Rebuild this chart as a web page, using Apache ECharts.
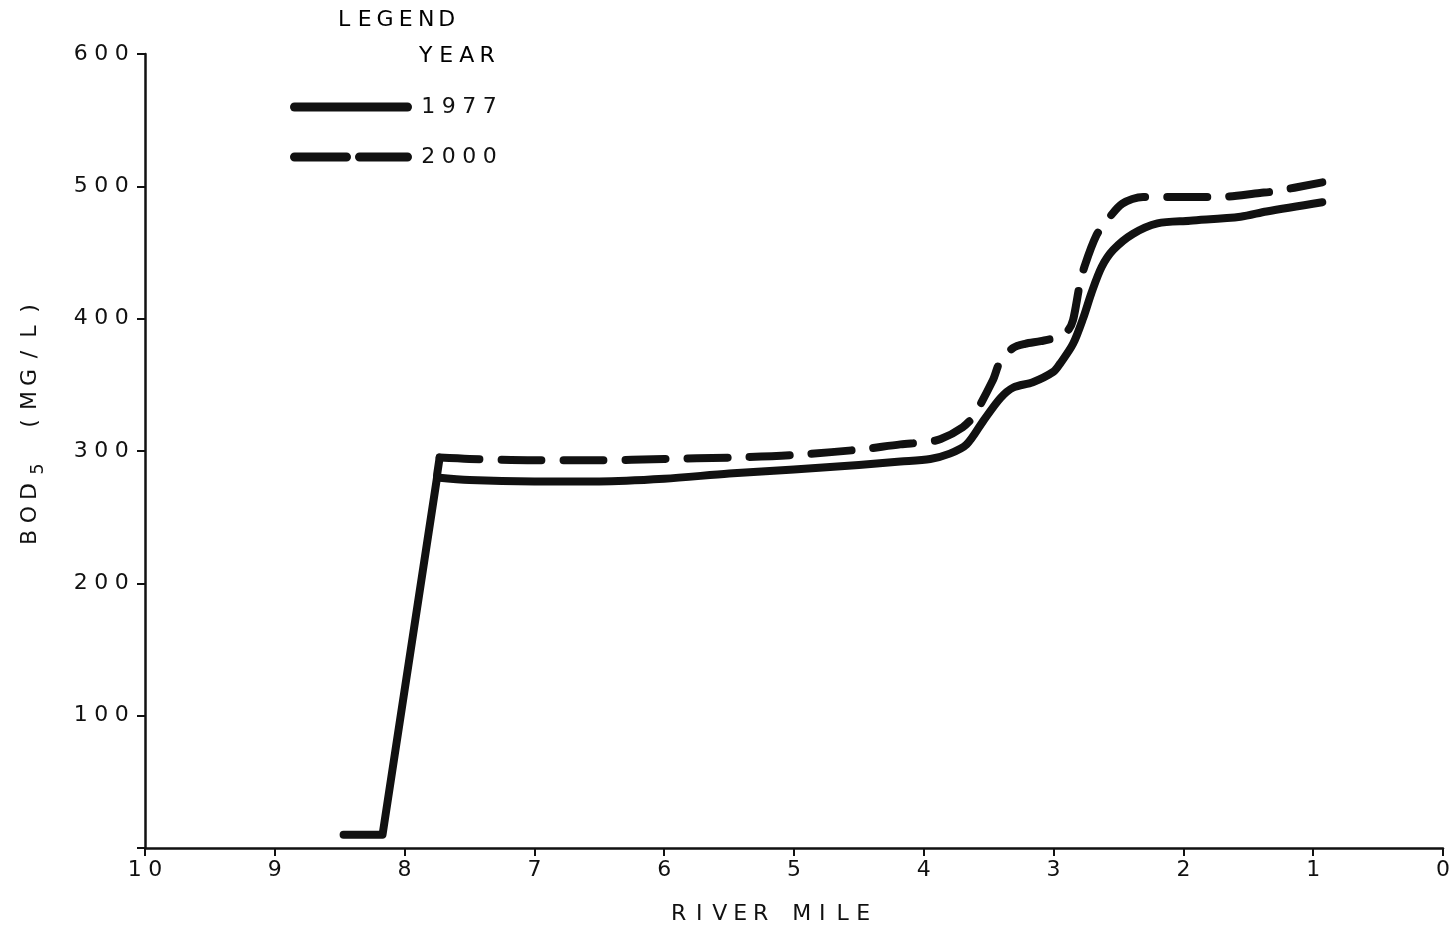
<!DOCTYPE html>
<html>
<head>
<meta charset="utf-8">
<script src="https://cdn.jsdelivr.net/npm/echarts@6/dist/echarts.min.js"></script>
<style>
  html, body { margin: 0; padding: 0; background: #fff; }
  #chart { width: 1456px; height: 930px; }
</style>
</head>
<body>
<div id="chart"></div>
<script>
// River mile (distance upstream of the mouth) and BOD5 concentration, mg/L
const mile1977 = [8.47, 8.17, 7.75, 7.5, 7.0, 6.5, 6.0, 5.5, 5.0, 4.5, 4.18, 3.95, 3.80, 3.67, 3.54, 3.41, 3.31, 3.16, 3.0, 2.95, 2.85, 2.77, 2.71, 2.63, 2.54, 2.39, 2.20, 1.95, 1.56, 1.36, 0.93];
const bod1977  = [10, 10, 280, 278, 277, 277, 279, 283, 286, 289.5, 292, 294, 298, 305, 323, 340, 348, 352, 360, 366, 381, 401, 419, 439, 452, 464, 472, 474, 477, 481, 488];

const mile2000 = [7.75, 7.73, 7.5, 7.0, 6.5, 6.0, 5.5, 5.0, 4.5, 4.18, 4.0, 3.87, 3.70, 3.62, 3.47, 3.41, 3.31, 3.22, 3.10, 2.97, 2.89, 2.85, 2.80, 2.76, 2.67, 2.59, 2.47, 2.31, 2.03, 1.72, 1.41, 1.31, 0.93];
const bod2000  = [282, 295, 294, 293, 293, 294, 295, 297, 301, 305, 306.5, 309, 318, 326, 353, 368, 378, 381, 383, 386, 391, 399, 425, 440, 463, 474, 487, 492, 492, 492, 495, 496, 503];

// index of the last point of the straight outfall jump; the curve is smoothed after it
const jumpEnd1977 = 2;
const jumpEnd2000 = 1;

const years = ['1977', '2000'];
const yTicks = [100, 200, 300, 400, 500, 600];

const FONT = 'DejaVu Sans';
const INK = '#111';

// plotter-style lettering: every character sits in a fixed-width cell
function spaced(str, cell = 'c', gap = 's') {
  return String(str).split('').map(c => c === ' ' ? '{' + gap + '|}' : '{' + cell + '|' + c + '}').join('');
}
const cellRich = {
  c: { width: 20.5, align: 'center', fontFamily: FONT, fontSize: 22, color: INK },
  s: { width: 20.5 },
  w: { width: 23, align: 'center', fontFamily: FONT, fontSize: 22, color: INK },
  ws: { width: 23 },
  sub: { fontFamily: FONT, fontSize: 18, color: INK, padding: [16, 0, 0, 0], width: 22, align: 'center' }
};

// legend swatches: a solid bar and two dashes with rounded ends
const solidIcon = 'path://M4.5,0 H117.5 A4.5,4.5 0 0 1 117.5,9 H4.5 A4.5,4.5 0 0 1 4.5,0 Z';
const dashIcon = 'path://M4.5,0 H56.5 A4.5,4.5 0 0 1 56.5,9 H4.5 A4.5,4.5 0 0 1 4.5,0 Z ' +
                 'M69.5,0 H117.5 A4.5,4.5 0 0 1 117.5,9 H69.5 A4.5,4.5 0 0 1 69.5,0 Z';

const zip = (xs, ys) => xs.map((x, i) => [x, ys[i]]);

const solidStyle = { color: INK, width: 8, cap: 'round', join: 'round' };
const dashStyle = { color: INK, width: 8, type: [40, 22], cap: 'round', join: 'round' };

function lineSeries(name, data, smooth, lineStyle) {
  return {
    name, type: 'line', data, smooth,
    showSymbol: false, symbol: 'none',
    lineStyle, itemStyle: { color: INK }
  };
}

const pts1977 = zip(mile1977, bod1977);
const pts2000 = zip(mile2000, bod2000);

const chart = echarts.init(document.getElementById('chart'), null, { renderer: 'canvas' });

chart.setOption({
  backgroundColor: '#fff',
  animation: false,
  grid: { left: 145, right: 13, top: 54, bottom: 82 },
  xAxis: {
    type: 'value',
    inverse: true,
    min: 0, max: 10, interval: 1,
    name: spaced('RIVER MILE'),
    nameLocation: 'middle',
    nameGap: 55,
    nameTextStyle: { rich: cellRich, padding: [0, 46, 0, 0] },
    axisLine: { show: true, onZero: false, lineStyle: { color: INK, width: 2.5 } },
    axisTick: { show: true, length: 8, lineStyle: { color: INK, width: 2 } },
    axisLabel: { margin: 11, formatter: v => spaced(v), rich: cellRich },
    splitLine: { show: false }
  },
  yAxis: {
    type: 'value',
    position: 'left',
    min: 0, max: 600, interval: 100,
    name: spaced('BOD', 'w', 'ws') + '{sub|5}' + '{ws|}' + spaced('(MG/L)', 'w', 'ws'),
    nameLocation: 'middle',
    nameRotate: 90,
    nameGap: 98,
    nameTextStyle: { rich: cellRich, padding: [0, 0, 0, 56] },
    axisLine: { show: true, onZero: false, lineStyle: { color: INK, width: 2.5 } },
    axisTick: { show: true, length: 8, lineStyle: { color: INK, width: 2 } },
    axisLabel: {
      margin: 13,
      formatter: v => (yTicks.includes(v) ? spaced(v) : ''),
      rich: cellRich
    },
    splitLine: { show: false }
  },
  legend: {
    orient: 'vertical',
    left: 285,
    top: 91,
    itemWidth: 124,
    itemHeight: 9,
    itemGap: 28,
    selectedMode: false,
    formatter: name => spaced(name),
    textStyle: { rich: cellRich, padding: [0, 0, 0, 0] },
    itemStyle: { color: INK, borderWidth: 0 },
    data: [
      { name: years[0], icon: solidIcon },
      { name: years[1], icon: dashIcon }
    ]
  },
  graphic: [
    { type: 'text', left: 338, top: 9, style: { text: spaced('LEGEND'), rich: cellRich } },
    { type: 'text', left: 419, top: 45, style: { text: spaced('YEAR'), rich: cellRich } }
  ],
  series: [
    lineSeries(years[0], pts1977.slice(0, jumpEnd1977 + 1), false, solidStyle),
    lineSeries(years[0], pts1977.slice(jumpEnd1977), 0.3, solidStyle),
    lineSeries(years[1], pts2000.slice(0, jumpEnd2000 + 1), false, dashStyle),
    lineSeries(years[1], pts2000.slice(jumpEnd2000), 0.3, dashStyle)
  ]
});
</script>
</body>
</html>
